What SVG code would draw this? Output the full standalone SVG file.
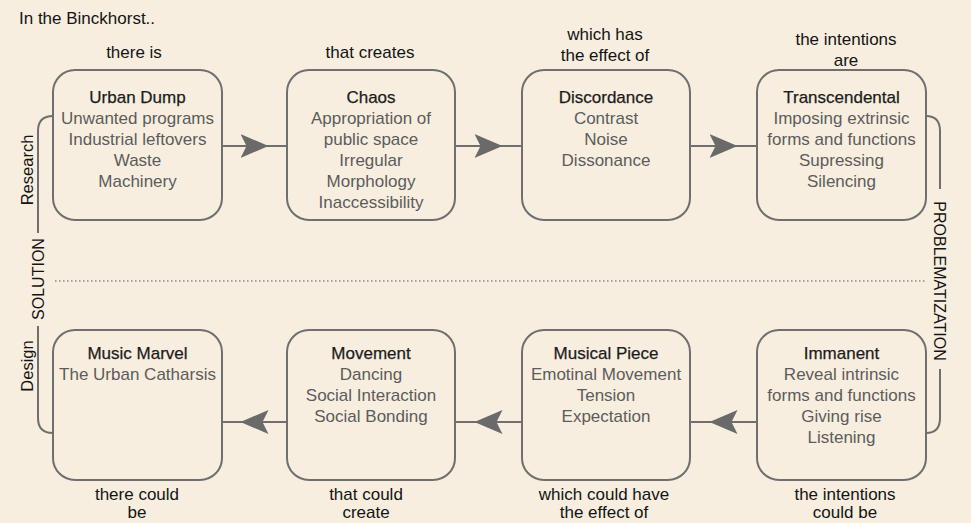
<svg xmlns="http://www.w3.org/2000/svg" width="971" height="523" viewBox="0 0 971 523">
<style>
text{font-family:"Liberation Sans",Arial,sans-serif;text-anchor:middle}
.t{font-size:17px;fill:#1c1c1c;stroke:#1c1c1c;stroke-width:0.25}
.d{font-size:17px;fill:#5c5c5c}
.l{font-size:17px;fill:#141414}
.s{font-size:16.5px;fill:#141414}
.box{fill:none;stroke:#6f6f6f;stroke-width:2}
.con{fill:none;stroke:#6f6f6f;stroke-width:2;marker-mid:url(#ah)}
.br{fill:none;stroke:#6f6f6f;stroke-width:2}
</style>
<defs>
<marker id="ah" viewBox="0 0 28 24" refX="28" refY="12" markerWidth="28" markerHeight="24" markerUnits="userSpaceOnUse" orient="auto">
<path d="M0,0 L28,12 L0,24 L6,12 Z" fill="#6a6a6a"/>
</marker>
</defs>
<rect width="971" height="523" fill="#f7eedf"/>
<text class="l" x="19" y="24" style="text-anchor:start">In the Binckhorst..</text>

<g id="brackets">
<path class="br" d="M53,116 Q38,116 38,131 V233"/>
<path class="br" d="M38,326 V418 Q38,433 53,433"/>
<path class="br" d="M926,116 Q940,116 940,131 V189"/>
<path class="br" d="M940,369 V418 Q940,433 926,433"/>
<line x1="55" y1="281" x2="925" y2="281" stroke="#8a8a8a" stroke-width="1.5" stroke-dasharray="1.5,2.5"/>
<text class="s" transform="translate(33,170) rotate(-90)">Research</text>
<text class="s" transform="translate(33,366) rotate(-90)">Design</text>
<text class="s" style="font-size:16px" transform="translate(44,279) rotate(-90)">SOLUTION</text>
<text class="s" style="font-size:16px" transform="translate(934,281) rotate(90)">PROBLEMATIZATION</text>
</g>

<g id="connectors">
<path class="con" d="M222,146 L268.5,146 L287,146"/>
<path class="con" d="M455,146 L502.5,146 L522,146"/>
<path class="con" d="M690,146 L737.5,146 L757,146"/>
<path class="con" d="M757,422 L709.5,422 L690,422"/>
<path class="con" d="M522,422 L474.5,422 L455,422"/>
<path class="con" d="M287,422 L240.5,422 L222,422"/>
</g>

<g id="urban-dump">
<text class="l" x="134" y="58">there is</text>
<rect class="box" x="53" y="70" width="169" height="150" rx="22"/>
<text class="t" x="137.5" y="103">Urban Dump</text>
<text class="d" x="137.5" y="124">Unwanted programs</text>
<text class="d" x="137.5" y="145">Industrial leftovers</text>
<text class="d" x="137.5" y="166">Waste</text>
<text class="d" x="137.5" y="187">Machinery</text>
</g>

<g id="chaos">
<text class="l" x="370" y="58">that creates</text>
<rect class="box" x="287" y="70" width="168" height="150" rx="22"/>
<text class="t" x="371" y="103">Chaos</text>
<text class="d" x="371" y="124">Appropriation of</text>
<text class="d" x="371" y="145">public space</text>
<text class="d" x="371" y="166">Irregular</text>
<text class="d" x="371" y="187">Morphology</text>
<text class="d" x="371" y="208">Inaccessibility</text>
</g>

<g id="discordance">
<text class="l" x="605" y="40">which has</text>
<text class="l" x="605" y="61">the effect of</text>
<rect class="box" x="522" y="70" width="168" height="150" rx="22"/>
<text class="t" x="606" y="103">Discordance</text>
<text class="d" x="606" y="124">Contrast</text>
<text class="d" x="606" y="145">Noise</text>
<text class="d" x="606" y="166">Dissonance</text>
</g>

<g id="transcendental">
<text class="l" x="846" y="45">the intentions</text>
<text class="l" x="846" y="66">are</text>
<rect class="box" x="757" y="70" width="169" height="150" rx="22"/>
<text class="t" x="841.5" y="103">Transcendental</text>
<text class="d" x="841.5" y="124">Imposing extrinsic</text>
<text class="d" x="841.5" y="145">forms and functions</text>
<text class="d" x="841.5" y="166">Supressing</text>
<text class="d" x="841.5" y="187">Silencing</text>
</g>

<g id="music-marvel">
<rect class="box" x="53" y="330" width="169" height="150" rx="22"/>
<text class="t" x="137.5" y="359">Music Marvel</text>
<text class="d" x="137.5" y="380">The Urban Catharsis</text>
<text class="l" x="137" y="500">there could</text>
<text class="l" x="137" y="518">be</text>
</g>

<g id="movement">
<rect class="box" x="287" y="330" width="168" height="150" rx="22"/>
<text class="t" x="371" y="359">Movement</text>
<text class="d" x="371" y="380">Dancing</text>
<text class="d" x="371" y="401">Social Interaction</text>
<text class="d" x="371" y="422">Social Bonding</text>
<text class="l" x="366" y="500">that could</text>
<text class="l" x="366" y="518">create</text>
</g>

<g id="musical-piece">
<rect class="box" x="522" y="330" width="168" height="150" rx="22"/>
<text class="t" x="606" y="359">Musical Piece</text>
<text class="d" x="606" y="380">Emotinal Movement</text>
<text class="d" x="606" y="401">Tension</text>
<text class="d" x="606" y="422">Expectation</text>
<text class="l" x="604" y="500">which could have</text>
<text class="l" x="604" y="518">the effect of</text>
</g>

<g id="immanent">
<rect class="box" x="757" y="330" width="169" height="150" rx="22"/>
<text class="t" x="841.5" y="359">Immanent</text>
<text class="d" x="841.5" y="380">Reveal intrinsic</text>
<text class="d" x="841.5" y="401">forms and functions</text>
<text class="d" x="841.5" y="422">Giving rise</text>
<text class="d" x="841.5" y="443">Listening</text>
<text class="l" x="845" y="500">the intentions</text>
<text class="l" x="845" y="518">could be</text>
</g>
</svg>
